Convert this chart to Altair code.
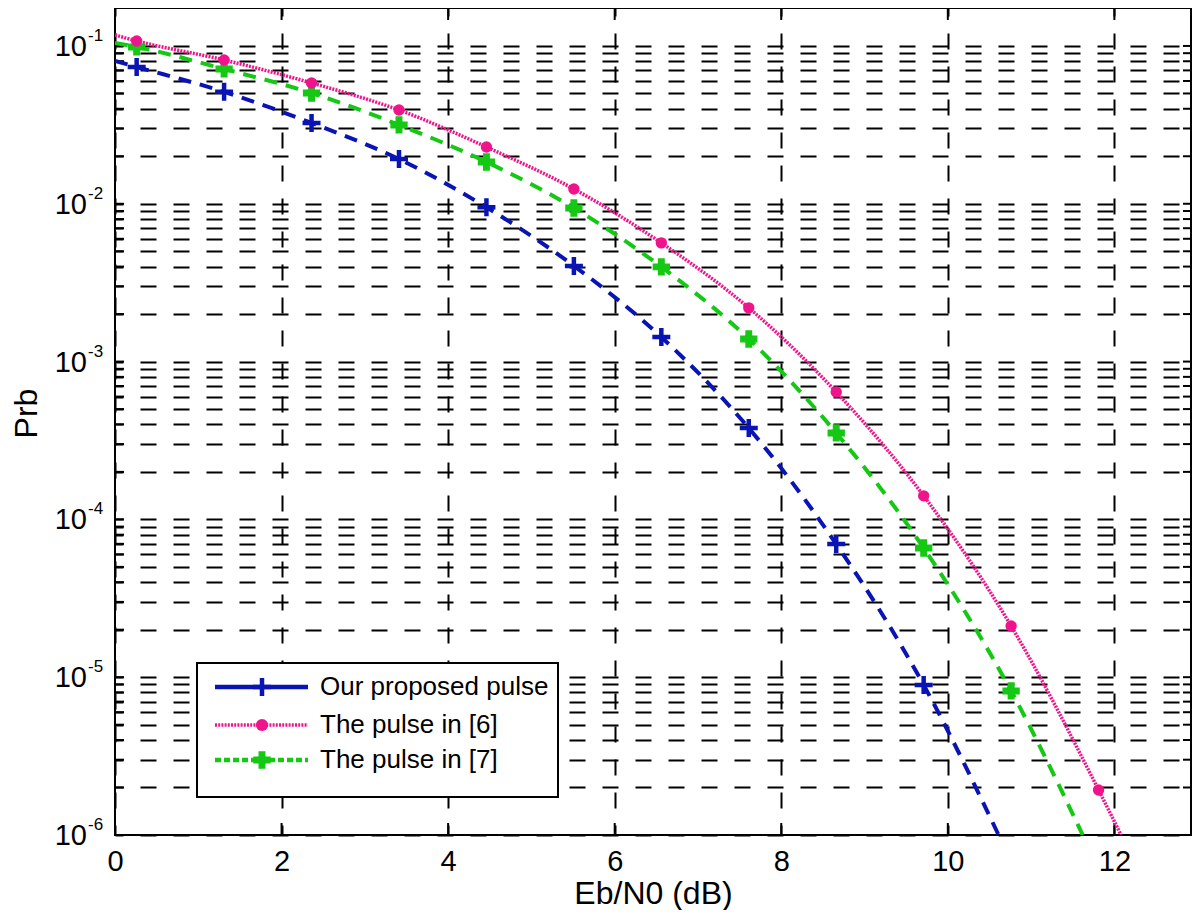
import altair as alt
import pandas as pd

# ---------------- data ----------------
series_names = ["Our proposed pulse", "The pulse in [6]", "The pulse in [7]"]
marker_x = [0.26, 1.31, 2.36, 3.41, 4.46, 5.51, 6.56, 7.61, 8.66, 9.71, 10.76, 11.81]
proposed_p = [0.0736, 0.0512, 0.0325, 0.0192, 0.0095, 0.00404, 0.00143,
              3.79e-4, 6.98e-5, 8.93e-6]
pulse6_p = [0.1076, 0.0815, 0.0583, 0.0393, 0.0229, 0.0124, 0.00565,
            0.00219, 6.41e-4, 1.41e-4, 2.11e-5, 1.93e-6]
pulse7_p = [0.0986, 0.0715, 0.0503, 0.0316, 0.0184, 0.0094, 0.00398,
            0.00139, 3.53e-4, 6.59e-5, 8.18e-6]
curve_start_p = [0.0804, 0.1174, 0.1045]   # value of each curve at 0 dB
curve_end_x = [10.61, 12.08, 11.62]        # where each curve reaches 1e-6
curve_end_p = [1e-6, 1e-6, 1e-6]
x_ticks = [0, 2, 4, 6, 8, 10, 12]
y_decades = [1e-1, 1e-2, 1e-3, 1e-4, 1e-5, 1e-6]
y_exponents = ["-1", "-2", "-3", "-4", "-5", "-6"]
x_domain = [0, 12.92]
y_domain = [1e-6, 0.174]

# ---------------- tables ----------------
series_p = [proposed_p, pulse6_p, pulse7_p]
line_rows, mark_rows = [], []
for name, vals, p0, xe, pe in zip(series_names, series_p, curve_start_p, curve_end_x, curve_end_p):
    line_rows.append({"s": name, "x": 0.0, "p": p0, "o": 0})
    for i, v in enumerate(vals):
        line_rows.append({"s": name, "x": marker_x[i], "p": v, "o": i + 1})
        mark_rows.append({"s": name, "x": marker_x[i], "p": v})
    line_rows.append({"s": name, "x": xe, "p": pe, "o": len(vals) + 1})
lines_df = pd.DataFrame(line_rows)
marks_df = pd.DataFrame(mark_rows)

grid_vals = [m * d for d in y_decades for m in range(1, 10) if m * d <= y_domain[1] * 1.0001]
ygrid_df = pd.DataFrame({"p": grid_vals})
xtick_df = pd.DataFrame({"x": x_ticks})
ylab_df = pd.DataFrame({"p": y_decades, "base": ["10"] * len(y_decades), "exp": y_exponents})

# ---------------- styling ----------------
W, H = 1076, 827
FONT = "Liberation Sans"
BLUE, MAGENTA, GREEN = "#0a14b4", "#f0148c", "#14c814"
PLUS = "M-1,0H1M0,-1V1"

xs = alt.Scale(domain=x_domain, nice=False, zero=False)
ys = alt.Scale(type="log", domain=y_domain, nice=False)

x_axis = alt.Axis(values=x_ticks, grid=True, gridDash=[16, 17], gridDashOffset=8,
                  gridColor="black", gridWidth=2, gridOpacity=1, ticks=False, domain=False,
                  labelFontSize=29, labelFont=FONT, labelColor="black", labelPadding=12,
                  labelFlush=False,
                  title="Eb/N0 (dB)", titleFontSize=32, titleFont=FONT, titleFontWeight="normal",
                  titleColor="black", titleY=58, titleBaseline="middle")
y_axis = alt.Axis(values=grid_vals, grid=True, gridDash=[16, 17], gridDashOffset=8,
                  gridColor="black", gridWidth=2, gridOpacity=1, ticks=False, domain=False,
                  labels=False, title="Prb", titleFontSize=32, titleFont=FONT,
                  titleFontWeight="normal", titleColor="black", titleX=-89, titleY=405,
                  titleAngle=270, titleAlign="center", titleBaseline="middle")

X = alt.X("x:Q", scale=xs, axis=x_axis)
Y = alt.Y("p:Q", scale=ys, axis=y_axis)

layers = []

# inward ticks (left, right, bottom, top)
layers.append(alt.Chart(ygrid_df).mark_rule(color="black", strokeWidth=2).encode(
    y=Y, x=alt.value(0), x2=alt.value(9)))
layers.append(alt.Chart(ygrid_df).mark_rule(color="black", strokeWidth=2).encode(
    y=Y, x=alt.value(W - 8), x2=alt.value(W)))
layers.append(alt.Chart(xtick_df).mark_rule(color="black", strokeWidth=2).encode(
    x=X, y=alt.value(H - 12), y2=alt.value(H)))
layers.append(alt.Chart(xtick_df).mark_rule(color="black", strokeWidth=2).encode(
    x=X, y=alt.value(0), y2=alt.value(12)))

# y tick labels 10^k
layers.append(alt.Chart(ylab_df).mark_text(align="right", baseline="middle", fontSize=29,
                                           font=FONT, color="black", dy=1).encode(
    y=Y, x=alt.value(-28), text="base:N"))
layers.append(alt.Chart(ylab_df).mark_text(align="left", baseline="middle", fontSize=17,
                                           font=FONT, color="black", dy=-10).encode(
    y=Y, x=alt.value(-27), text="exp:N"))

# curves
curve_style = {
    series_names[0]: dict(color=BLUE, strokeWidth=4, strokeDash=[13, 9]),
    series_names[1]: dict(color=MAGENTA, strokeWidth=3.5, strokeDash=[2, 1.2]),
    series_names[2]: dict(color=GREEN, strokeWidth=4, strokeDash=[13, 9]),
}
for name in [series_names[0], series_names[2], series_names[1]]:
    layers.append(alt.Chart(lines_df[lines_df.s == name]).mark_line(
        interpolate="monotone", clip=True, **curve_style[name]).encode(
        x=X, y=Y, order="o:Q"))

# markers
layers.append(alt.Chart(marks_df[marks_df.s == series_names[0]]).mark_point(
    shape=PLUS, filled=False, stroke=BLUE, strokeWidth=4.5, size=324, opacity=1).encode(x=X, y=Y))
layers.append(alt.Chart(marks_df[marks_df.s == series_names[2]]).mark_point(
    shape="diamond", filled=True, color=GREEN, size=180, opacity=1).encode(x=X, y=Y))
layers.append(alt.Chart(marks_df[marks_df.s == series_names[2]]).mark_point(
    shape="cross", filled=True, color=GREEN, size=300, opacity=1).encode(x=X, y=Y))
layers.append(alt.Chart(marks_df[marks_df.s == series_names[1]]).mark_point(
    shape="circle", filled=True, color=MAGENTA, size=130, opacity=1).encode(x=X, y=Y))

# legend (drawn box in the lower left of the plot)
LX0, LX1, LY0, LY1 = 82, 443, 655, 789
row_y = [679, 717, 752]
leg_df = pd.DataFrame({"s": series_names})
layers.append(alt.Chart(leg_df.iloc[[0]]).mark_rect(fill="white", stroke="black", strokeWidth=2).encode(
    x=alt.value(LX0), x2=alt.value(LX1), y=alt.value(LY0), y2=alt.value(LY1)))
legend_line_style = [
    dict(color=BLUE, strokeWidth=4.5),
    dict(color=MAGENTA, strokeWidth=3.5, strokeDash=[2, 1.2]),
    dict(color=GREEN, strokeWidth=4.5, strokeDash=[6, 3]),
]
for i, name in enumerate(series_names):
    d = leg_df.iloc[[i]]
    layers.append(alt.Chart(d).mark_rule(**legend_line_style[i]).encode(
        x=alt.value(100), x2=alt.value(193), y=alt.value(row_y[i])))
    layers.append(alt.Chart(d).mark_text(align="left", baseline="middle", fontSize=26,
                                         font=FONT, color="black").encode(
        x=alt.value(205), y=alt.value(row_y[i]), text="s:N"))
d0, d1, d2 = leg_df.iloc[[0]], leg_df.iloc[[1]], leg_df.iloc[[2]]
layers.append(alt.Chart(d0).mark_point(shape=PLUS, filled=False, stroke=BLUE, strokeWidth=4.5,
                                       size=324, opacity=1).encode(x=alt.value(147), y=alt.value(row_y[0])))
layers.append(alt.Chart(d1).mark_point(shape="circle", filled=True, color=MAGENTA, size=150,
                                       opacity=1).encode(x=alt.value(147), y=alt.value(row_y[1])))
layers.append(alt.Chart(d2).mark_point(shape="diamond", filled=True, color=GREEN, size=180,
                                       opacity=1).encode(x=alt.value(147), y=alt.value(row_y[2])))
layers.append(alt.Chart(d2).mark_point(shape="cross", filled=True, color=GREEN, size=300,
                                       opacity=1).encode(x=alt.value(147), y=alt.value(row_y[2])))

chart = alt.layer(*layers).properties(
    width=W, height=H,
    autosize=alt.AutoSizeParams(type="none"),
    padding={"left": 107, "top": 0, "right": 1, "bottom": 75},
    background="white",
).configure_view(stroke="black", strokeWidth=2)

chart.save("out.html", embed_options={"renderer": "svg", "actions": False})
